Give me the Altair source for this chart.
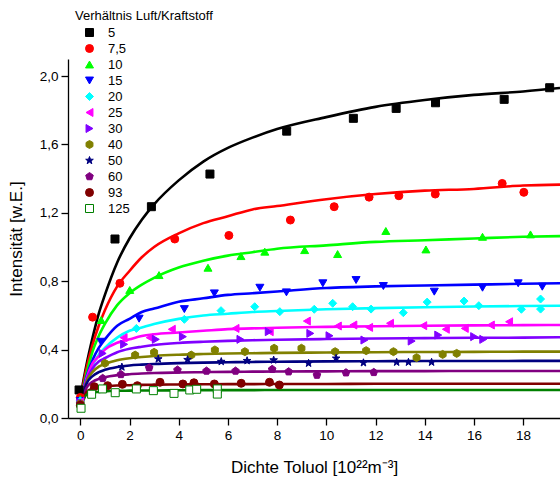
import altair as alt
import pandas as pd

series = ["5", "7,5", "10", "15", "20", "25", "30", "40", "50", "60", "93", "125"]
colors = ["#000000", "#ff0000", "#00ff00", "#0000ff", "#00ffff", "#ff00ff",
          "#8000ff", "#808000", "#000080", "#800080", "#800000", "#008000"]
fills = colors[:-1] + ["#ffffff"]

HEX = "M0,-1L0.866,-0.5L0.866,0.5L0,1L-0.866,0.5L-0.866,-0.5Z"
PENT = "M0,-1L0.951,-0.309L0.588,0.809L-0.588,0.809L-0.951,-0.309Z"
STAR = ("M0,-1L0.235,-0.324L0.951,-0.309L0.380,0.124L0.588,0.809L0,0.4"
        "L-0.588,0.809L-0.380,0.124L-0.951,-0.309L-0.235,-0.324Z")
shapes = ["square", "circle", "triangle-up", "triangle-down", "diamond",
          "triangle-left", "triangle-right", HEX, STAR, PENT, "circle", "square"]

# measured points (x, y) per series
pts = {
    "5": [(-0.05, 0.164), (1.41, 1.047), (2.89, 1.236), (5.27, 1.427), (8.39, 1.678),
          (11.1, 1.753), (12.84, 1.811), (14.44, 1.844), (17.23, 1.864), (19.08, 1.932)],
    "7,5": [(0.0, 0.12), (0.5, 0.59), (1.61, 0.788), (3.84, 1.047), (6.04, 1.068),
            (8.54, 1.158), (10.32, 1.236), (11.74, 1.292), (12.95, 1.30), (14.43, 1.31),
            (17.15, 1.372), (18.03, 1.32)],
    "10": [(0.0, 0.11), (0.85, 0.573), (2.01, 0.749), (3.2, 0.836), (5.19, 0.879),
           (6.53, 0.947), (7.5, 0.973), (9.12, 0.982), (10.46, 0.959), (12.42, 1.094),
           (14.05, 0.986), (16.35, 1.06), (18.3, 1.074)],
    "15": [(0.0, 0.10), (0.84, 0.446), (2.39, 0.581), (4.23, 0.637), (5.45, 0.729),
           (7.3, 0.762), (8.38, 0.735), (9.86, 0.788), (11.21, 0.807), (12.32, 0.772),
           (14.39, 0.739), (16.35, 0.762), (17.8, 0.788), (18.78, 0.768)],
    "20": [(0.0, 0.10), (2.28, 0.524), (4.23, 0.577), (5.72, 0.628), (7.09, 0.651),
           (8.11, 0.622), (9.51, 0.636), (10.26, 0.671), (11.07, 0.651), (11.82, 0.637),
           (13.13, 0.616), (14.1, 0.678), (15.6, 0.684), (16.2, 0.657), (17.93, 0.636),
           (18.71, 0.696), (18.71, 0.637)],
    "25": [(0.0, 0.095), (1.76, 0.47), (2.82, 0.47), (3.72, 0.519), (6.31, 0.524),
           (7.7, 0.505), (9.21, 0.567), (10.47, 0.538), (11.1, 0.544), (11.74, 0.53),
           (12.59, 0.554), (13.94, 0.54), (14.86, 0.519), (15.63, 0.524), (16.69, 0.544),
           (17.43, 0.563)],
    "30": [(0.0, 0.09), (0.91, 0.378), (1.78, 0.431), (3.07, 0.46), (4.17, 0.476),
           (6.51, 0.46), (7.66, 0.505), (9.35, 0.495), (10.13, 0.481), (11.55, 0.456),
           (13.47, 0.45), (14.55, 0.485), (16.01, 0.476), (16.38, 0.46)],
    "40": [(0.0, 0.085), (1.0, 0.32), (2.23, 0.368), (3.0, 0.384), (4.51, 0.368),
           (5.47, 0.398), (6.69, 0.388), (7.88, 0.408), (8.99, 0.408), (10.36, 0.388),
           (11.62, 0.394), (12.73, 0.388), (13.67, 0.353), (14.73, 0.372), (15.3, 0.378)],
    "50": [(0.0, 0.08), (1.69, 0.298), (3.17, 0.345), (4.36, 0.341), (5.73, 0.33),
           (6.78, 0.335), (7.86, 0.339), (9.28, 0.32), (10.4, 0.349), (11.51, 0.323),
           (12.86, 0.326), (13.34, 0.326), (14.28, 0.326)],
    "60": [(0.0, 0.08), (0.91, 0.232), (1.65, 0.255), (2.8, 0.294), (3.95, 0.281),
           (5.13, 0.275), (6.31, 0.275), (7.8, 0.285), (8.47, 0.271), (9.62, 0.251),
           (10.8, 0.265), (11.93, 0.267)],
    "93": [(0.0, 0.075), (0.57, 0.183), (1.11, 0.189), (1.71, 0.197), (2.32, 0.189),
           (3.24, 0.209), (4.17, 0.199), (4.62, 0.206), (5.45, 0.199), (6.54, 0.203),
           (7.69, 0.209), (8.09, 0.193)],
    "125": [(0.03, 0.057), (0.46, 0.139), (0.9, 0.17), (1.42, 0.148), (2.28, 0.17),
            (2.97, 0.16), (3.81, 0.144), (4.45, 0.164), (4.73, 0.168), (5.57, 0.17),
            (5.57, 0.14)],
}

# fitted curves
curve_x = [0, 0.25, 0.5, 0.75, 1, 1.5, 2, 2.5, 3, 4, 5, 6, 7, 8, 10, 12, 14, 16, 18, 19.5]
curves = {
    "5":   [0.12, 0.31, 0.47, 0.61, 0.72, 0.91, 1.05, 1.16, 1.25, 1.39, 1.50, 1.58, 1.64, 1.69, 1.76, 1.82, 1.86, 1.89, 1.91, 1.93],
    "7,5": [0.10, 0.29, 0.43, 0.54, 0.63, 0.77, 0.86, 0.94, 1.00, 1.08, 1.14, 1.18, 1.22, 1.24, 1.28, 1.31, 1.33, 1.34, 1.36, 1.365],
    "10":  [0.09, 0.26, 0.39, 0.48, 0.55, 0.66, 0.73, 0.78, 0.82, 0.88, 0.92, 0.95, 0.97, 0.99, 1.01, 1.03, 1.04, 1.05, 1.06, 1.064],
    "15":  [0.08, 0.24, 0.34, 0.41, 0.46, 0.54, 0.58, 0.62, 0.64, 0.68, 0.70, 0.72, 0.73, 0.74, 0.76, 0.77, 0.775, 0.78, 0.785, 0.788],
    "20":  [0.08, 0.22, 0.31, 0.37, 0.41, 0.47, 0.51, 0.53, 0.55, 0.58, 0.60, 0.61, 0.62, 0.626, 0.636, 0.643, 0.648, 0.652, 0.655, 0.657],
    "25":  [0.07, 0.23, 0.32, 0.36, 0.40, 0.44, 0.46, 0.48, 0.49, 0.50, 0.51, 0.52, 0.524, 0.528, 0.533, 0.537, 0.54, 0.542, 0.543, 0.544],
    "30":  [0.07, 0.22, 0.29, 0.33, 0.35, 0.385, 0.405, 0.417, 0.427, 0.439, 0.446, 0.451, 0.455, 0.458, 0.462, 0.465, 0.467, 0.469, 0.47, 0.472],
    "40":  [0.06, 0.21, 0.27, 0.30, 0.316, 0.338, 0.35, 0.357, 0.363, 0.37, 0.374, 0.377, 0.379, 0.381, 0.383, 0.385, 0.386, 0.387, 0.388, 0.388],
    "50":  [0.06, 0.20, 0.245, 0.268, 0.282, 0.298, 0.307, 0.312, 0.316, 0.321, 0.324, 0.326, 0.328, 0.329, 0.331, 0.332, 0.333, 0.333, 0.334, 0.334],
    "60":  [0.05, 0.176, 0.212, 0.229, 0.239, 0.25, 0.256, 0.26, 0.263, 0.266, 0.268, 0.27, 0.271, 0.272, 0.273, 0.274, 0.274, 0.275, 0.275, 0.275],
    "93":  [0.05, 0.152, 0.172, 0.18, 0.185, 0.19, 0.192, 0.194, 0.195, 0.196, 0.197, 0.198, 0.198, 0.199, 0.199, 0.2, 0.2, 0.2, 0.2, 0.2],
    "125": [0.045, 0.136, 0.148, 0.153, 0.156, 0.159, 0.16, 0.161, 0.161, 0.162, 0.163, 0.163, 0.163, 0.164, 0.164, 0.164, 0.164, 0.164, 0.164, 0.164],
}

pt_rows = [{"Serie": s, "px": x, "py": y}
           for s in series for (x, y) in pts[s]]
pdf = pd.DataFrame(pt_rows)

FONT = "Liberation Sans"
x_ticks = list(range(0, 20))
y_ticks = [round(0.2 * i, 1) for i in range(0, 11)]

xscale = alt.Scale(domain=[-0.5, 19.5], nice=False, zero=False)
yscale = alt.Scale(domain=[0, 2.1], nice=False, zero=False)

xaxis = alt.Axis(
    title="Dichte Toluol [10²²m⁻³]", values=x_ticks, grid=False,
    labelExpr="datum.value % 2 === 0 ? datum.label : ''",
    tickSize={"condition": {"test": "datum.value % 2 === 0", "value": 7}, "value": 4},
    labelPadding=3, titlePadding=18, labelFlush=False, labelOverlap=False,
)
yaxis = alt.Axis(
    title="Intensität [w.E.]", values=y_ticks, grid=False,
    labelExpr="round(datum.value*10) % 4 === 0 ? replace(format(datum.value, '.1f'), '.', ',') : ''",
    tickSize={"condition": {"test": "round(datum.value*10) % 4 === 0", "value": 7}, "value": 4},
    labelPadding=3, titlePadding=14, labelFlush=False, labelOverlap=False,
)

layers = []
for i, s in enumerate(series):
    cdf = pd.DataFrame({"cx": curve_x, "cy": curves[s]})
    if i == 0:
        enc = dict(x=alt.X("cx:Q", scale=xscale, axis=xaxis),
                   y=alt.Y("cy:Q", scale=yscale, axis=yaxis))
    else:
        enc = dict(x=alt.X("cx:Q"), y=alt.Y("cy:Q"))
    layers.append(
        alt.Chart(cdf).mark_line(strokeWidth=2.6, interpolate="monotone", clip=True,
                                 color=colors[i]).encode(**enc)
    )

legend = alt.Legend(
    title="Verhältnis Luft/Kraftstoff", orient="none", legendX=7, legendY=-49,
    symbolOffset=8, labelOffset=12, rowPadding=2, titlePadding=3,
    symbolOpacity=1,
)

points = alt.Chart(pdf).mark_point(filled=False, size=64, strokeWidth=1, opacity=1).encode(
    x=alt.X("px:Q"),
    y=alt.Y("py:Q"),
    shape=alt.Shape("Serie:N", scale=alt.Scale(domain=series, range=shapes), legend=legend),
    fill=alt.Fill("Serie:N", scale=alt.Scale(domain=series, range=fills), legend=legend),
    stroke=alt.Stroke("Serie:N", scale=alt.Scale(domain=series, range=colors), legend=legend),
)

chart = alt.layer(*layers, points).properties(
    width=492, height=359,
    autosize=alt.AutoSizeParams(type="none"),
    padding={"left": 68, "top": 59, "right": 0, "bottom": 61},
).configure_view(stroke=None).configure_axis(
    domainColor="black", domainWidth=1.3, tickColor="black", tickWidth=1.3,
    labelFont=FONT, labelFontSize=13.5, labelColor="black",
    titleFont=FONT, titleFontSize=17, titleFontWeight="normal", titleColor="black",
).configure_legend(
    titleFontSize=13, titleFontWeight="normal", titleFont=FONT, titleColor="black",
    labelFontSize=13, labelFont=FONT, labelColor="black", symbolSize=64,
    symbolStrokeWidth=1, padding=0,
)

chart.save("out.html", embed_options={"renderer": "svg", "actions": False})
